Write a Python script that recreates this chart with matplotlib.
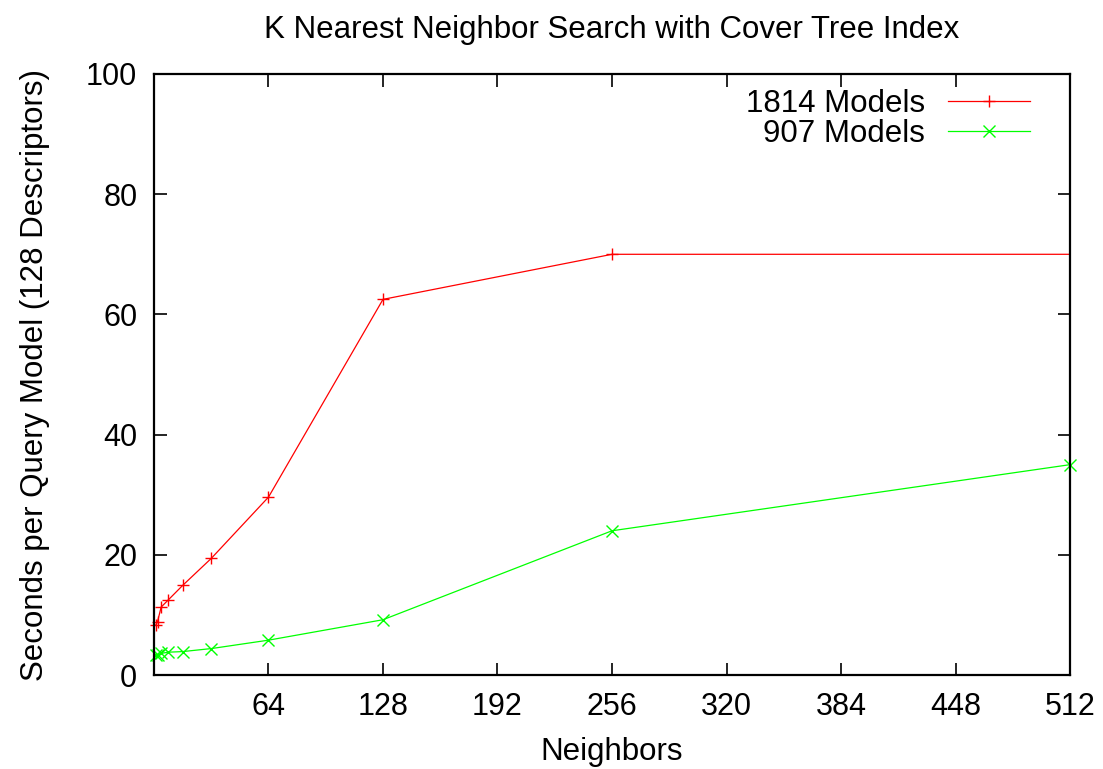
import matplotlib
matplotlib.use("Agg")
import matplotlib.pyplot as plt

plt.rcParams['font.family'] = ['Liberation Sans', 'DejaVu Sans']

neighbors = [1, 2, 4, 8, 16, 32, 64, 128, 256, 512]
models_1814 = [8.3, 8.9, 11.3, 12.5, 14.9, 19.4, 29.6, 62.5, 70.0, 70.0]
models_907 = [3.3, 3.4, 3.6, 3.8, 3.9, 4.4, 5.8, 9.2, 24.0, 35.0]
xticks = [64, 128, 192, 256, 320, 384, 448, 512]
yticks = [0, 20, 40, 60, 80, 100]

fig = plt.figure(figsize=(11.03, 7.69), dpi=100)
ax = fig.add_axes([0.1396, 0.1222, 0.8305, 0.7816])

ax.plot(neighbors, models_1814, color='#ff0000', lw=0.9, marker='+', ms=9,
        mew=1.0, markevery=list(range(len(neighbors) - 1)), label='1814 Models',
        clip_on=False)
ax.plot(neighbors, models_907, color='#00ff00', lw=0.9, marker='x', ms=8,
        mew=1.0, label='907 Models', clip_on=False)

ax.set_xlim(0, 512)
ax.set_ylim(0, 100)
ax.set_xticks(xticks)
ax.set_yticks(yticks)
ax.tick_params(direction='in', length=9, width=1.2, labelsize=22,
               top=True, right=True, pad=12)
for s in ax.spines.values():
    s.set_linewidth(1.6)

ax.set_title('K Nearest Neighbor Search with Cover Tree Index', fontsize=22.5, pad=26)
ax.set_xlabel('Neighbors', fontsize=22.5, labelpad=11)
ax.set_ylabel('Seconds per Query Model (128 Descriptors)', fontsize=22.5, labelpad=26)

leg = ax.legend(loc='upper right', frameon=False, markerfirst=False, fontsize=22.5,
                handlelength=2.6, handletextpad=0.75, labelspacing=0.0,
                borderpad=0.0, borderaxespad=0.0, bbox_to_anchor=(0.956, 0.975))
leg._legend_box.get_children()[1].get_children()[0].align = 'right'

fig.savefig('out.png', dpi=100)
